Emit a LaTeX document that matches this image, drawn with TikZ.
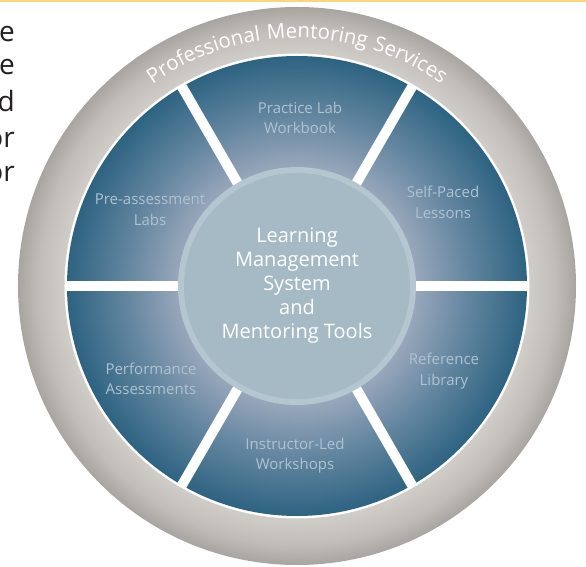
\documentclass[tikz,border=0pt]{standalone}
\usepackage{fontspec}
\setmainfont{Open Sans}
\newfontfamily\ringfont[LetterSpace=6]{Open Sans}
\usetikzlibrary{decorations.text}
\definecolor{bluelight}{HTML}{A3B0C3}
\definecolor{bluemid}{HTML}{9AA8BC}
\definecolor{bluemid2}{HTML}{6486A0}
\definecolor{bluedark}{HTML}{2D6381}
\definecolor{graylight}{HTML}{D0CCC8}
\definecolor{graymid}{HTML}{C0BCB8}
\definecolor{graydark}{HTML}{A8A4A0}
\definecolor{ccring}{HTML}{B4C6CF}
\definecolor{ccfill}{HTML}{A5BAC4}
\definecolor{labeltext}{HTML}{AFC2D0}
\definecolor{yellowline}{HTML}{FBD77C}
\definecolor{sidetext}{HTML}{231F20}
\pgfdeclareradialshading{blueshade}{\pgfpoint{0bp}{0bp}}{color(0bp)=(bluelight); color(12.7bp)=(bluemid); color(18.5bp)=(bluemid2); color(25bp)=(bluedark); color(50bp)=(bluedark)}
\pgfdeclareradialshading{grayshade}{\pgfpoint{0bp}{0bp}}{color(0bp)=(graylight); color(20.9bp)=(graylight); color(23.2bp)=(graymid); color(25bp)=(graydark); color(50bp)=(graydark)}
\begin{document}
\begin{tikzpicture}[x=1pt,y=1pt,
  seglabel/.style={align=center, text=labeltext, inner sep=0pt, font=\fontsize{15}{20.5}\selectfont},
  sidelabel/.style={anchor=base east, inner sep=0pt, text=sidetext, font=\fontsize{28}{30}\selectfont},
  divider/.style={white, line width=10pt}]
\useasboundingbox (-297,286) rectangle (289,-281);
\clip (-297,286) rectangle (289,-281);
\fill[yellowline] (-297,286) rectangle (289,284);
% side text fragments
\node[sidelabel] (s1) at (-282,244) {e};
\node[sidelabel] (s2) at (-282,211) {e};
\node[sidelabel] (s3) at (-282,174) {d};
\node[sidelabel] (s4) at (-282,138) {or};
\node[sidelabel] (s5) at (-282,104) {or};
% rings
\shade[shading=grayshade] (0,0) circle (279);
\fill[white] (0,0) circle (232.5);
\shade[shading=blueshade] (0,0) circle (230);
\foreach \a in {0,60,...,300} \draw[divider] (0,0) -- (\a:231);
\fill[ccring] (0,0) circle (119);
\fill[ccfill] (0,0) circle (113);
% ring text
\path[decorate, decoration={text along path, text align=center,
  text={|\color{white}\ringfont\fontsize{20.5}{22}\selectfont|Professional Mentoring Services}}]
  (165:248) arc[start angle=165, end angle=15, radius=248];
% labels
\node[align=center, text=white, inner sep=0pt, font=\fontsize{20}{24}\selectfont] (lms) at (0,0)
  {Learning\\Management\\System\\and\\Mentoring Tools};
\node[seglabel] (plw) at (3,168) {Practice Lab\\Workbook};
\node[seglabel] (spl) at (146,83.5) {Self-Paced\\Lessons};
\node[seglabel] (rl) at (147,-85) {Reference\\Library};
\node[seglabel] (ilw) at (-2,-169.5) {Instructor-Led\\Workshops};
\node[seglabel] (pa) at (-146,-93) {Performance\\Assessments};
\node[seglabel] (pal) at (-147,76.5) {Pre-assessment\\Labs};
\end{tikzpicture}
\end{document}
